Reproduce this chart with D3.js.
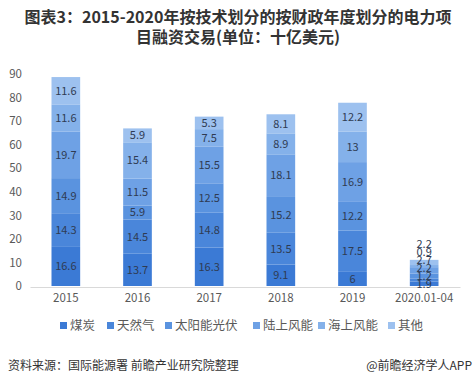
<!DOCTYPE html>
<html>
<head>
<meta charset="utf-8">
<script src="https://cdn.jsdelivr.net/npm/d3@7"></script>
<style>
body { margin: 0; background: #fff; }
text { font-family: "Noto Sans CJK SC", "Noto Sans", sans-serif; }
</style>
</head>
<body>
<div id="chart"></div>
<script>
var years = ["2015", "2016", "2017", "2018", "2019", "2020.01-04"];
var seriesNames = ["煤炭", "天然气", "太阳能光伏", "陆上风能", "海上风能", "其他"];
var coal     = [16.6, 13.7, 16.3, 9.1, 6, 1.9];
var gas      = [14.3, 14.5, 14.8, 13.5, 17.5, 1.2];
var solar    = [14.9, 5.9, 12.5, 15.2, 12.2, 2.2];
var onshore  = [19.7, 11.5, 15.5, 18.1, 16.9, 2.7];
var offshore = [11.6, 15.4, 7.5, 8.9, 13, 0.9];
var other    = [11.6, 5.9, 5.3, 8.1, 12.2, 2.2];
var yTicks = [0, 10, 20, 30, 40, 50, 60, 70, 80, 90];

var colors = ["#3b7ad5", "#4a86da", "#5a93df", "#6ea1e5", "#84b1ea", "#9dc1ef"];

function init(){
	var w = 476, h = 390;
	var left = 30, right = 460, top = 74, bottom = 286;

	var svg = d3.select("#chart").append("svg")
		.attr("width", w).attr("height", h);

	// title
	svg.append("text").attr("x", w / 2).attr("y", 23)
		.attr("text-anchor", "middle").attr("font-size", 16).attr("font-weight", "bold")
		.attr("fill", "#333")
		.text("图表3：2015-2020年按技术划分的按财政年度划分的电力项");
	svg.append("text").attr("x", w / 2).attr("y", 43)
		.attr("text-anchor", "middle").attr("font-size", 16).attr("font-weight", "bold")
		.attr("fill", "#333")
		.text("目融资交易(单位：十亿美元)");

	var table = years.map(function(y, i){
		return {year: y, "煤炭": coal[i], "天然气": gas[i], "太阳能光伏": solar[i],
			"陆上风能": onshore[i], "海上风能": offshore[i], "其他": other[i]};
	});
	var stacked = d3.stack().keys(seriesNames)(table);

	var xScale = d3.scaleBand().domain(years).range([left, right])
		.paddingInner(0.6).paddingOuter(0.3);
	var yScale = d3.scaleLinear().domain([0, 90]).range([bottom, top]);

	// y axis labels
	var yAxis = svg.append("g").attr("transform", "translate(" + (left - 8) + ",0)")
		.call(d3.axisLeft(yScale).tickValues(yTicks).tickSize(0).tickPadding(0));
	yAxis.select(".domain").remove();
	yAxis.selectAll("text").attr("font-size", 11.5).attr("fill", "#595959")
		.attr("font-family", "Liberation Sans, Arial, sans-serif");

	// x axis
	var xAxis = svg.append("g").attr("transform", "translate(0," + (bottom + 1) + ")")
		.call(d3.axisBottom(xScale).tickSize(0).tickPadding(7));
	xAxis.select(".domain").attr("stroke", "#d9d9d9");
	xAxis.selectAll("text").attr("font-size", 11.5).attr("fill", "#595959")
		.attr("font-family", "Liberation Sans, Arial, sans-serif");

	// bars
	var groups = svg.selectAll("g.layer").data(stacked).enter().append("g")
		.attr("class", "layer").attr("fill", function(d, i){ return colors[i]; });
	groups.selectAll("rect").data(function(d){ return d; }).enter().append("rect")
		.attr("x", function(d){ return xScale(d.data.year); })
		.attr("y", function(d){ return yScale(d[1]); })
		.attr("width", xScale.bandwidth())
		.attr("height", function(d){ return yScale(d[0]) - yScale(d[1]); });

	// value labels, pushed apart when segments are too small
	years.forEach(function(yr, i){
		var prev = Infinity;
		stacked.forEach(function(layer){
			var d = layer[i];
			var cy = yScale((d[0] + d[1]) / 2);
			cy = Math.min(cy, prev - 8);
			prev = cy;
			svg.append("text")
				.attr("x", xScale(yr) + xScale.bandwidth() / 2)
				.attr("y", cy).attr("dy", "0.35em")
				.attr("text-anchor", "middle").attr("font-size", 11)
				.attr("font-family", "Lato, sans-serif")
				.attr("fill", "#2f3b52")
				.text(String(+(d[1] - d[0]).toFixed(1)));
		});
	});

	// legend
	var legendX = [60, 107, 165, 253, 318, 388];
	var legend = svg.selectAll("g.legend").data(seriesNames).enter().append("g")
		.attr("class", "legend")
		.attr("transform", function(d, i){ return "translate(" + legendX[i] + ",326)"; });
	legend.append("rect").attr("x", 0).attr("y", -4).attr("width", 7).attr("height", 7)
		.attr("fill", function(d, i){ return colors[i]; });
	legend.append("text").attr("x", 10).attr("y", 0).attr("dy", "0.35em")
		.attr("font-size", 12.5).attr("fill", "#595959")
		.text(function(d){ return d; });

	// footer
	svg.append("text").attr("x", 8).attr("y", 366).attr("dy", "0.35em")
		.attr("font-size", 12).attr("fill", "#333")
		.text("资料来源：国际能源署 前瞻产业研究院整理");
	svg.append("text").attr("x", 472).attr("y", 366).attr("dy", "0.35em")
		.attr("text-anchor", "end").attr("font-size", 12).attr("fill", "#333")
		.text("@前瞻经济学人APP");
}

window.onload = init;
</script>
</body>
</html>
